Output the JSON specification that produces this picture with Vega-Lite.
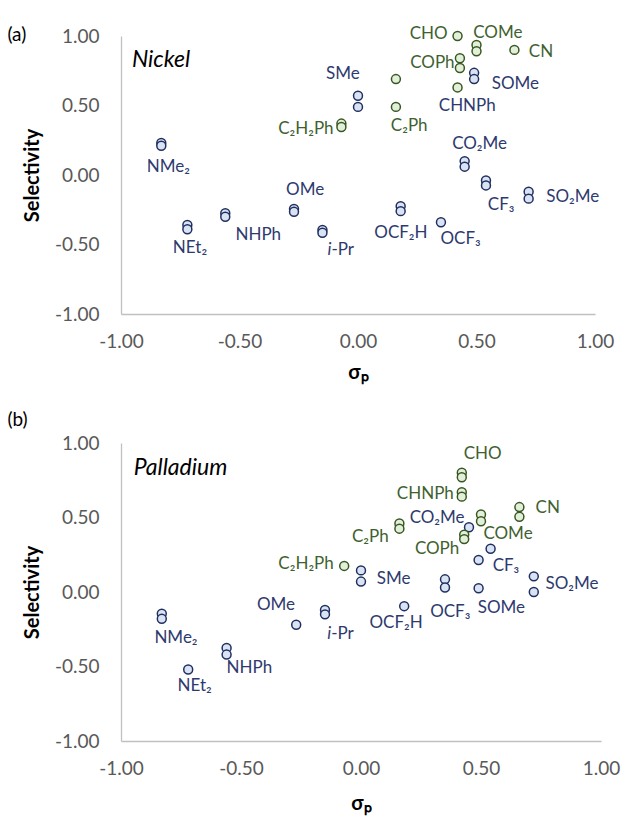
{
  "$schema": "https://vega.github.io/schema/vega-lite/v6.json",
  "background": "white",
  "padding": {"left": 7, "top": 24, "right": 10, "bottom": 10},
  "spacing": 29,
  "config": {
    "view": {"stroke": null},
    "font": "Lato",
    "locale": {"number": {"decimal": ".", "thousands": ",", "grouping": [3], "currency": ["$", ""], "minus": "-"}},
    "axis": {"grid": false, "ticks": false, "labelFlush": false, "domainColor": "#c0c0c0", "domainWidth": 1.3, "labelColor": "#595959", "labelFontSize": 19, "labelFont": "Lato", "titleFont": "Lato", "titleFontSize": 20, "titleFontWeight": "bold", "titleColor": "#000000"},
    "title": {"font": "Lato", "fontSize": 19, "fontWeight": "normal", "color": "#000000", "anchor": "start", "frame": "bounds"}
  },
  "datasets": {
    "ni": [
      {"sub": "NMe2", "sigma": -0.83, "sel": 0.23, "grp": "blue"},
      {"sub": "NMe2", "sigma": -0.83, "sel": 0.21, "grp": "blue"},
      {"sub": "NEt2", "sigma": -0.72, "sel": -0.36, "grp": "blue"},
      {"sub": "NEt2", "sigma": -0.72, "sel": -0.39, "grp": "blue"},
      {"sub": "NHPh", "sigma": -0.56, "sel": -0.275, "grp": "blue"},
      {"sub": "NHPh", "sigma": -0.56, "sel": -0.30, "grp": "blue"},
      {"sub": "OMe", "sigma": -0.27, "sel": -0.245, "grp": "blue"},
      {"sub": "OMe", "sigma": -0.27, "sel": -0.265, "grp": "blue"},
      {"sub": "i-Pr", "sigma": -0.15, "sel": -0.395, "grp": "blue"},
      {"sub": "i-Pr", "sigma": -0.15, "sel": -0.415, "grp": "blue"},
      {"sub": "SMe", "sigma": 0.0, "sel": 0.57, "grp": "blue"},
      {"sub": "SMe", "sigma": 0.0, "sel": 0.49, "grp": "blue"},
      {"sub": "OCF2H", "sigma": 0.18, "sel": -0.225, "grp": "blue"},
      {"sub": "OCF2H", "sigma": 0.18, "sel": -0.26, "grp": "blue"},
      {"sub": "OCF3", "sigma": 0.35, "sel": -0.34, "grp": "blue"},
      {"sub": "CO2Me", "sigma": 0.45, "sel": 0.10, "grp": "blue"},
      {"sub": "CO2Me", "sigma": 0.45, "sel": 0.06, "grp": "blue"},
      {"sub": "SOMe", "sigma": 0.49, "sel": 0.735, "grp": "blue"},
      {"sub": "SOMe", "sigma": 0.49, "sel": 0.69, "grp": "blue"},
      {"sub": "CF3", "sigma": 0.54, "sel": -0.04, "grp": "blue"},
      {"sub": "CF3", "sigma": 0.54, "sel": -0.075, "grp": "blue"},
      {"sub": "SO2Me", "sigma": 0.72, "sel": -0.12, "grp": "blue"},
      {"sub": "SO2Me", "sigma": 0.72, "sel": -0.17, "grp": "blue"},
      {"sub": "C2H2Ph", "sigma": -0.07, "sel": 0.37, "grp": "green"},
      {"sub": "C2H2Ph", "sigma": -0.07, "sel": 0.345, "grp": "green"},
      {"sub": "C2Ph", "sigma": 0.16, "sel": 0.69, "grp": "green"},
      {"sub": "C2Ph", "sigma": 0.16, "sel": 0.49, "grp": "green"},
      {"sub": "CHO", "sigma": 0.42, "sel": 1.0, "grp": "green"},
      {"sub": "CHNPh", "sigma": 0.42, "sel": 0.63, "grp": "green"},
      {"sub": "COPh", "sigma": 0.43, "sel": 0.84, "grp": "green"},
      {"sub": "COPh", "sigma": 0.43, "sel": 0.77, "grp": "green"},
      {"sub": "COMe", "sigma": 0.50, "sel": 0.935, "grp": "green"},
      {"sub": "COMe", "sigma": 0.50, "sel": 0.89, "grp": "green"},
      {"sub": "CN", "sigma": 0.66, "sel": 0.90, "grp": "green"}
    ],
    "niL": [
      {"label": "CHO", "lx": 0.298, "ly": 1.012, "grp": "green"},
      {"label": "COMe", "lx": 0.59, "ly": 1.02, "grp": "green"},
      {"label": "CN", "lx": 0.772, "ly": 0.883, "grp": "green"},
      {"label": "COPh", "lx": 0.314, "ly": 0.808, "grp": "green"},
      {"label": "SMe", "lx": -0.064, "ly": 0.727, "grp": "blue"},
      {"label": "SOMe", "lx": 0.664, "ly": 0.652, "grp": "blue"},
      {"label": "CHNPh", "lx": 0.461, "ly": 0.496, "grp": "blue"},
      {"label": "C₂Ph", "lx": 0.216, "ly": 0.353, "grp": "green"},
      {"label": "C₂H₂Ph", "lx": -0.22, "ly": 0.329, "grp": "green"},
      {"label": "CO₂Me", "lx": 0.513, "ly": 0.223, "grp": "blue"},
      {"label": "NMe₂", "lx": -0.80, "ly": 0.06, "grp": "blue"},
      {"label": "OMe", "lx": -0.223, "ly": -0.108, "grp": "blue"},
      {"label": "CF₃", "lx": 0.604, "ly": -0.216, "grp": "blue"},
      {"label": "SO₂Me", "lx": 0.906, "ly": -0.16, "grp": "blue"},
      {"label": "NEt₂", "lx": -0.709, "ly": -0.527, "grp": "blue"},
      {"label": "NHPh", "lx": -0.421, "ly": -0.432, "grp": "blue"},
      {"label": "OCF₂H", "lx": 0.181, "ly": -0.415, "grp": "blue"},
      {"label": "OCF₃", "lx": 0.433, "ly": -0.463, "grp": "blue"}
    ],
    "niIPr": [{"pre": "i", "rest": "-Pr", "lx": -0.112, "ly": -0.54}],
    "pd": [
      {"sub": "NMe2", "sigma": -0.83, "sel": -0.145, "grp": "blue"},
      {"sub": "NMe2", "sigma": -0.83, "sel": -0.18, "grp": "blue"},
      {"sub": "NEt2", "sigma": -0.72, "sel": -0.52, "grp": "blue"},
      {"sub": "NHPh", "sigma": -0.56, "sel": -0.375, "grp": "blue"},
      {"sub": "NHPh", "sigma": -0.56, "sel": -0.42, "grp": "blue"},
      {"sub": "OMe", "sigma": -0.27, "sel": -0.22, "grp": "blue"},
      {"sub": "i-Pr", "sigma": -0.15, "sel": -0.12, "grp": "blue"},
      {"sub": "i-Pr", "sigma": -0.15, "sel": -0.15, "grp": "blue"},
      {"sub": "SMe", "sigma": 0.0, "sel": 0.145, "grp": "blue"},
      {"sub": "SMe", "sigma": 0.0, "sel": 0.07, "grp": "blue"},
      {"sub": "OCF2H", "sigma": 0.18, "sel": -0.095, "grp": "blue"},
      {"sub": "OCF3", "sigma": 0.35, "sel": 0.085, "grp": "blue"},
      {"sub": "OCF3", "sigma": 0.35, "sel": 0.03, "grp": "blue"},
      {"sub": "CO2Me", "sigma": 0.45, "sel": 0.435, "grp": "blue"},
      {"sub": "SOMe", "sigma": 0.49, "sel": 0.215, "grp": "blue"},
      {"sub": "SOMe", "sigma": 0.49, "sel": 0.025, "grp": "blue"},
      {"sub": "CF3", "sigma": 0.54, "sel": 0.29, "grp": "blue"},
      {"sub": "SO2Me", "sigma": 0.72, "sel": 0.105, "grp": "blue"},
      {"sub": "SO2Me", "sigma": 0.72, "sel": 0.0, "grp": "blue"},
      {"sub": "C2H2Ph", "sigma": -0.07, "sel": 0.175, "grp": "green"},
      {"sub": "C2Ph", "sigma": 0.16, "sel": 0.46, "grp": "green"},
      {"sub": "C2Ph", "sigma": 0.16, "sel": 0.425, "grp": "green"},
      {"sub": "CHO", "sigma": 0.42, "sel": 0.80, "grp": "green"},
      {"sub": "CHO", "sigma": 0.42, "sel": 0.77, "grp": "green"},
      {"sub": "CHNPh", "sigma": 0.42, "sel": 0.67, "grp": "green"},
      {"sub": "CHNPh", "sigma": 0.42, "sel": 0.64, "grp": "green"},
      {"sub": "COPh", "sigma": 0.43, "sel": 0.385, "grp": "green"},
      {"sub": "COPh", "sigma": 0.43, "sel": 0.355, "grp": "green"},
      {"sub": "COMe", "sigma": 0.50, "sel": 0.52, "grp": "green"},
      {"sub": "COMe", "sigma": 0.50, "sel": 0.475, "grp": "green"},
      {"sub": "CN", "sigma": 0.66, "sel": 0.57, "grp": "green"},
      {"sub": "CN", "sigma": 0.66, "sel": 0.505, "grp": "green"}
    ],
    "pdL": [
      {"label": "CHO", "lx": 0.507, "ly": 0.928, "grp": "green"},
      {"label": "CHNPh", "lx": 0.268, "ly": 0.66, "grp": "green"},
      {"label": "CN", "lx": 0.778, "ly": 0.562, "grp": "green"},
      {"label": "CO₂Me", "lx": 0.317, "ly": 0.495, "grp": "blue"},
      {"label": "C₂Ph", "lx": 0.039, "ly": 0.369, "grp": "green"},
      {"label": "COMe", "lx": 0.6125, "ly": 0.391, "grp": "green"},
      {"label": "COPh", "lx": 0.317, "ly": 0.287, "grp": "green"},
      {"label": "CF₃", "lx": 0.604, "ly": 0.174, "grp": "blue"},
      {"label": "C₂H₂Ph", "lx": -0.229, "ly": 0.186, "grp": "green"},
      {"label": "SMe", "lx": 0.136, "ly": 0.089, "grp": "blue"},
      {"label": "SO₂Me", "lx": 0.879, "ly": 0.052, "grp": "blue"},
      {"label": "OCF₃", "lx": 0.372, "ly": -0.132, "grp": "blue"},
      {"label": "SOMe", "lx": 0.585, "ly": -0.105, "grp": "blue"},
      {"label": "OCF₂H", "lx": 0.146, "ly": -0.206, "grp": "blue"},
      {"label": "OMe", "lx": -0.354, "ly": -0.089, "grp": "blue"},
      {"label": "NMe₂", "lx": -0.771, "ly": -0.307, "grp": "blue"},
      {"label": "NHPh", "lx": -0.465, "ly": -0.512, "grp": "blue"},
      {"label": "NEt₂", "lx": -0.693, "ly": -0.631, "grp": "blue"}
    ],
    "pdIPr": [{"pre": "i", "rest": "-Pr", "lx": -0.124, "ly": -0.28}],
    "niName": [{"metal": "Nickel", "nx": -0.954, "ny": 0.83}],
    "pdName": [{"metal": "Palladium", "nx": -0.947, "ny": 0.834}]
  },
  "vconcat": [
    {
      "width": 474,
      "height": 278,
      "title": {"text": "(a)", "dx": -15, "dy": 25},
      "layer": [
        {
          "data": {"name": "ni"},
          "mark": {"type": "circle", "size": 80, "opacity": 1, "strokeWidth": 1.5},
          "encoding": {
            "x": {"field": "sigma", "type": "quantitative", "scale": {"domain": [-1, 1], "nice": false}, "axis": {"values": [-1, -0.5, 0, 0.5, 1], "format": ".2f", "title": "σₚ", "labelPadding": 18, "titlePadding": 11}},
            "y": {"field": "sel", "type": "quantitative", "scale": {"domain": [-1, 1], "nice": false}, "axis": {"values": [-1, -0.5, 0, 0.5, 1], "format": ".2f", "title": "Selectivity", "labelPadding": 22, "titlePadding": 12}},
            "fill": {"field": "grp", "type": "nominal", "scale": {"domain": ["blue", "green"], "range": ["#dae3f3", "#e2f0d9"]}, "legend": null},
            "stroke": {"field": "grp", "type": "nominal", "scale": {"domain": ["blue", "green"], "range": ["#1f2f5f", "#385723"]}, "legend": null}
          }
        },
        {
          "data": {"name": "niL"},
          "mark": {"type": "text", "fontSize": 17, "font": "Lato"},
          "encoding": {
            "x": {"field": "lx", "type": "quantitative"},
            "y": {"field": "ly", "type": "quantitative"},
            "text": {"field": "label"},
            "color": {"field": "grp", "type": "nominal", "scale": {"domain": ["blue", "green"], "range": ["#2e3a6e", "#3f6130"]}, "legend": null}
          }
        },
        {
          "data": {"name": "niIPr"},
          "mark": {"type": "text", "fontSize": 17, "font": "Lato", "fontStyle": "italic", "align": "right", "color": "#2e3a6e"},
          "encoding": {"x": {"field": "lx", "type": "quantitative"}, "y": {"field": "ly", "type": "quantitative"}, "text": {"field": "pre"}}
        },
        {
          "data": {"name": "niIPr"},
          "mark": {"type": "text", "fontSize": 17, "font": "Lato", "align": "left", "color": "#2e3a6e"},
          "encoding": {"x": {"field": "lx", "type": "quantitative"}, "y": {"field": "ly", "type": "quantitative"}, "text": {"field": "rest"}}
        },
        {
          "data": {"name": "niName"},
          "mark": {"type": "text", "fontStyle": "italic", "fontSize": 23, "align": "left", "font": "Lato", "color": "#000000"},
          "encoding": {"x": {"field": "nx", "type": "quantitative"}, "y": {"field": "ny", "type": "quantitative"}, "text": {"field": "metal"}}
        }
      ]
    },
    {
      "width": 480,
      "height": 298,
      "title": {"text": "(b)", "dx": -15, "dy": 0},
      "layer": [
        {
          "data": {"name": "pd"},
          "mark": {"type": "circle", "size": 80, "opacity": 1, "strokeWidth": 1.5},
          "encoding": {
            "x": {"field": "sigma", "type": "quantitative", "scale": {"domain": [-1, 1], "nice": false}, "axis": {"values": [-1, -0.5, 0, 0.5, 1], "format": ".2f", "title": "σₚ", "labelPadding": 18, "titlePadding": 15}},
            "y": {"field": "sel", "type": "quantitative", "scale": {"domain": [-1, 1], "nice": false}, "axis": {"values": [-1, -0.5, 0, 0.5, 1], "format": ".2f", "title": "Selectivity", "labelPadding": 22, "titlePadding": 12}},
            "fill": {"field": "grp", "type": "nominal", "scale": {"domain": ["blue", "green"], "range": ["#dae3f3", "#e2f0d9"]}, "legend": null},
            "stroke": {"field": "grp", "type": "nominal", "scale": {"domain": ["blue", "green"], "range": ["#1f2f5f", "#385723"]}, "legend": null}
          }
        },
        {
          "data": {"name": "pdL"},
          "mark": {"type": "text", "fontSize": 17, "font": "Lato"},
          "encoding": {
            "x": {"field": "lx", "type": "quantitative"},
            "y": {"field": "ly", "type": "quantitative"},
            "text": {"field": "label"},
            "color": {"field": "grp", "type": "nominal", "scale": {"domain": ["blue", "green"], "range": ["#2e3a6e", "#3f6130"]}, "legend": null}
          }
        },
        {
          "data": {"name": "pdIPr"},
          "mark": {"type": "text", "fontSize": 17, "font": "Lato", "fontStyle": "italic", "align": "right", "color": "#2e3a6e"},
          "encoding": {"x": {"field": "lx", "type": "quantitative"}, "y": {"field": "ly", "type": "quantitative"}, "text": {"field": "pre"}}
        },
        {
          "data": {"name": "pdIPr"},
          "mark": {"type": "text", "fontSize": 17, "font": "Lato", "align": "left", "color": "#2e3a6e"},
          "encoding": {"x": {"field": "lx", "type": "quantitative"}, "y": {"field": "ly", "type": "quantitative"}, "text": {"field": "rest"}}
        },
        {
          "data": {"name": "pdName"},
          "mark": {"type": "text", "fontStyle": "italic", "fontSize": 23, "align": "left", "font": "Lato", "color": "#000000"},
          "encoding": {"x": {"field": "nx", "type": "quantitative"}, "y": {"field": "ny", "type": "quantitative"}, "text": {"field": "metal"}}
        }
      ]
    }
  ]
}
